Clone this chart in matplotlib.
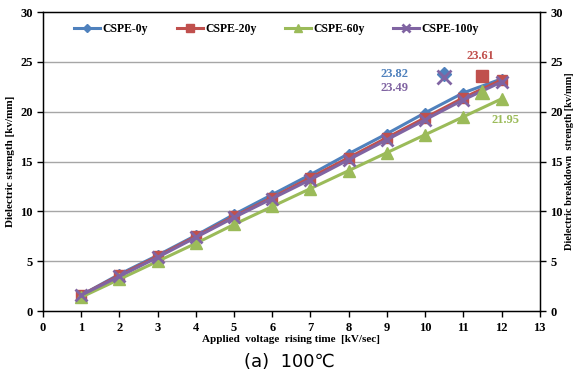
import matplotlib
matplotlib.use("Agg")
import matplotlib.pyplot as plt

x = [1, 2, 3, 4, 5, 6, 7, 8, 9, 10, 11, 12]
cspe_0y = [1.6, 3.7, 5.6, 7.6, 9.7, 11.7, 13.7, 15.8, 17.8, 19.9, 21.9, 23.3]
cspe_20y = [1.6, 3.6, 5.5, 7.5, 9.5, 11.4, 13.4, 15.4, 17.4, 19.4, 21.4, 23.2]
cspe_60y = [1.4, 3.2, 5.0, 6.8, 8.7, 10.5, 12.3, 14.1, 15.9, 17.7, 19.5, 21.3]
cspe_100y = [1.6, 3.5, 5.4, 7.4, 9.4, 11.3, 13.2, 15.2, 17.2, 19.2, 21.2, 23.0]

labels = ["CSPE-0y", "CSPE-20y", "CSPE-60y", "CSPE-100y"]
avg_x = [10.5, 11.5, 11.5, 10.5]
avg_y = [23.82, 23.61, 21.95, 23.49]
avg_text = ["23.82", "23.61", "21.95", "23.49"]

colors = ["#4F81BD", "#C0504D", "#9BBB59", "#8064A2"]
markers = ["D", "s", "^", "x"]
msizes = [5, 7, 8, 8]

serif = "Liberation Serif"

fig = plt.figure(figsize=(5.73, 3.79), dpi=100)
ax = fig.add_axes([0.075, 0.179, 0.867, 0.789])

series = [cspe_0y, cspe_20y, cspe_60y, cspe_100y]
for s, c, m, ms, lab in zip(series, colors, markers, msizes, labels):
    ax.plot(x, s, color=c, marker=m, markersize=ms, linewidth=2.2,
            markeredgewidth=2 if m == "x" else 1, label=lab)

for ax_, ay, c, m, ms in zip(avg_x, avg_y, colors, markers, msizes):
    ax.plot([ax_], [ay], color=c, marker=m, markersize=ms + 2, linestyle="none",
            markeredgewidth=2 if m == "x" else 1)

text_pos = [(9.2, 23.8), (11.45, 25.6), (12.1, 19.2), (9.2, 22.4)]
for (tx, ty), t, c in zip(text_pos, avg_text, colors):
    ax.text(tx, ty, t, color=c, fontsize=9, fontfamily=serif, fontweight="bold",
            ha="center", va="center")

ax.set_xlim(0, 13)
ax.set_ylim(0, 30)
ax.set_xticks(range(0, 14))
ax.set_yticks(range(0, 31, 5))
for yv in range(5, 30, 5):
    ax.axhline(yv, color="#A6A6A6", linewidth=1, zorder=0)
ax.tick_params(direction="out", length=4, width=1, labelsize=9)
for lbl in ax.get_xticklabels() + ax.get_yticklabels():
    lbl.set_fontfamily(serif)
    lbl.set_fontweight("bold")
for sp in ax.spines.values():
    sp.set_color("black")
    sp.set_linewidth(1)

ax.set_xlabel("Applied  voltage  rising time  [kV/sec]", fontfamily=serif,
              fontweight="bold", fontsize=8, labelpad=1)
ax.set_ylabel("Dielectric strength [kv/mm]", fontfamily=serif,
              fontweight="bold", fontsize=8, labelpad=4)

ax2 = ax.twinx()
ax2.set_ylim(0, 30)
ax2.set_yticks(range(0, 31, 5))
ax2.tick_params(direction="out", length=4, width=1, labelsize=9)
for lbl in ax2.get_yticklabels():
    lbl.set_fontfamily(serif)
    lbl.set_fontweight("bold")
ax2.set_ylabel("Dielectric breakdown  strength [kv/mm]", fontfamily=serif,
               fontweight="bold", fontsize=7.5, labelpad=2)

leg = ax.legend(loc="upper center", bbox_to_anchor=(0.47, 1.0), ncol=4,
                frameon=False, prop={"family": serif, "weight": "bold", "size": 8.5},
                handlelength=2.2, columnspacing=2.4, handletextpad=0.2,
                markerscale=0.75)

fig.text(0.505, 0.045, "(a)  100\u2103", fontsize=13, ha="center", va="center",
         fontfamily=["DejaVu Sans", "Noto Sans CJK KR"])

fig.savefig("out.png", dpi=100)
